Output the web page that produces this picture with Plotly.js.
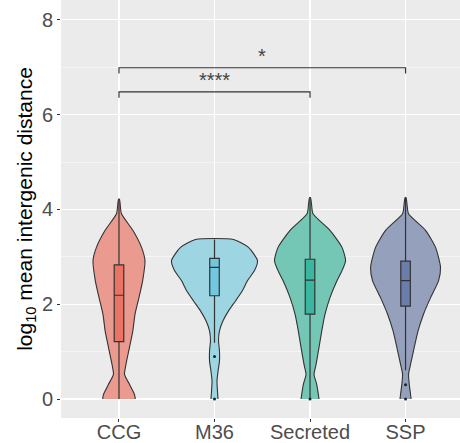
<!DOCTYPE html>
<html>
<head>
<meta charset="utf-8">
<script src="https://cdn.plot.ly/plotly-3.0.1.min.js"></script>
<style>html,body{margin:0;padding:0;background:#fff;}#chart{width:460px;height:443px;}</style>
</head>
<body>
<div id="chart"></div>
<script>
// ---- data ----
const categories = ["CCG", "M36", "Secreted", "SSP"];
const violinFill = ["#EA9A8F", "#9DD5E3", "#74C6B5", "#95A0BC"];
const boxFill = ["#EA7363", "#72C8DD", "#3BB7A1", "#6B7DAA"];

// violin outlines: y levels and half-widths (category units)
const ccgLevels = [0, 0.1, 0.31, 0.52, 0.73, 1.09, 1.44, 1.79, 2.14, 2.5, 2.92, 3.2, 3.56, 3.91, 4.1, 4.22];
const ccgHalf   = [0.171, 0.162, 0.110, 0.058, 0.073, 0.110, 0.145, 0.168, 0.209, 0.248, 0.272, 0.236, 0.145, 0.026, 0.013, 0.005];
const m36Levels = [0, 0.17, 0.38, 0.59, 0.8, 1.02, 1.23, 1.44, 1.65, 1.86, 2.07, 2.29, 2.5, 2.71, 2.92, 3.2, 3.365];
const m36Half   = [0.037, 0.031, 0.026, 0.037, 0.052, 0.052, 0.042, 0.052, 0.089, 0.147, 0.22, 0.293, 0.346, 0.419, 0.45, 0.356, 0.199];
const secLevels = [0, 0.1, 0.31, 0.52, 0.73, 1.09, 1.44, 1.79, 2.14, 2.5, 2.71, 2.92, 3.2, 3.56, 3.91, 4.1, 4.25];
const secHalf   = [0.094, 0.087, 0.070, 0.042, 0.063, 0.094, 0.123, 0.157, 0.209, 0.283, 0.335, 0.372, 0.335, 0.209, 0.031, 0.016, 0.005];
const sspLevels = [0, 0.1, 0.31, 0.52, 0.73, 1.09, 1.44, 1.79, 2.14, 2.5, 2.78, 3.2, 3.56, 3.91, 4.1, 4.25];
const sspHalf   = [0.058, 0.052, 0.039, 0.031, 0.052, 0.091, 0.131, 0.188, 0.262, 0.346, 0.366, 0.314, 0.209, 0.031, 0.016, 0.005];

// box statistics
const q1     = [1.21, 2.18, 1.79, 1.96];
const median = [2.19, 2.78, 2.51, 2.50];
const q3     = [2.83, 2.97, 2.95, 2.91];
const lowerW = [0.0, 1.19, 0.0, 0.61];
const upperW = [4.22, 3.365, 4.25, 4.25];
const outlierGroup = [1, 1, 2, 3, 3];
const outlierValue = [0.9, 0.0, 0.0, 0.30, 0.0];

// significance brackets
const bracketFrom = [0, 0];
const bracketTo = [2, 3];
const bracketY = [6.48, 6.99];
const bracketLabel = ["****", "*"];

const levels = [ccgLevels, m36Levels, secLevels, sspLevels];
const halves = [ccgHalf, m36Half, secHalf, sspHalf];

const X_RANGE = [-0.607, 3.57];
const Y_RANGE = [-0.4, 8.42];

const traces = [];
categories.forEach((c, i) => {
  const L = levels[i], H = halves[i];
  const xs = [], ys = [];
  for (let k = 0; k < L.length; k++) { xs.push(i + H[k]); ys.push(L[k]); }
  for (let k = L.length - 1; k >= 0; k--) { xs.push(i - H[k]); ys.push(L[k]); }
  traces.push({
    type: "scatter", mode: "lines", x: xs, y: ys, fill: "toself",
    fillcolor: violinFill[i], line: {color: "#333333", width: 1.1, shape: "spline", smoothing: 0.6},
    hoverinfo: "skip", showlegend: false
  });
});
// boxes on an overlaying axis pair so they are drawn above the violins
categories.forEach((c, i) => {
  traces.push({
    type: "box", x: [i], q1: [q1[i]], median: [median[i]], q3: [q3[i]],
    lowerfence: [lowerW[i]], upperfence: [upperW[i]], width: 0.1,
    fillcolor: boxFill[i], line: {color: "#333333", width: 1.2}, whiskerwidth: 0,
    boxpoints: false, showlegend: false, hoverinfo: "skip",
    xaxis: "x2", yaxis: "y2"
  });
});
traces.push({
  type: "scatter", mode: "markers", x: outlierGroup, y: outlierValue,
  marker: {color: "#222222", size: 3}, showlegend: false, hoverinfo: "skip",
  xaxis: "x2", yaxis: "y2"
});
const drop = 0.12;
bracketFrom.forEach((f, k) => {
  traces.push({
    type: "scatter", mode: "lines",
    x: [f, f, bracketTo[k], bracketTo[k]],
    y: [bracketY[k] - drop, bracketY[k], bracketY[k], bracketY[k] - drop],
    line: {color: "#333333", width: 1.2}, showlegend: false, hoverinfo: "skip"
  });
});

const annotations = bracketFrom.map((f, k) => ({
  x: (f + bracketTo[k]) / 2, y: bracketY[k], xref: "x", yref: "y",
  text: bracketLabel[k], showarrow: false, yanchor: "bottom", yshift: -1,
  font: {family: "Liberation Sans, Arial, sans-serif", size: 20, color: "#444444"}
}));

const layout = {
  width: 460, height: 443,
  margin: {l: 61, r: 0, t: 0, b: 25, pad: 0},
  paper_bgcolor: "#ffffff", plot_bgcolor: "#EBEBEB",
  font: {family: "Liberation Sans, Arial, sans-serif"},
  showlegend: false, boxmode: "overlay",
  xaxis: {
    range: X_RANGE, tickvals: [0, 1, 2, 3], ticktext: categories,
    showgrid: true, gridcolor: "#ffffff", gridwidth: 1.1, zeroline: false,
    ticks: "outside", ticklen: 3, tickcolor: "#333333", tickwidth: 1,
    ticklabelstandoff: -7,
    tickfont: {size: 20, color: "#4D4D4D"}, showline: false, fixedrange: true
  },
  yaxis: {
    range: Y_RANGE, tickvals: [0, 2, 4, 6, 8],
    showgrid: true, gridcolor: "#ffffff", gridwidth: 1.1, zeroline: false,
    minor: {tickvals: [1, 3, 5, 7], showgrid: true, gridcolor: "#ffffff", gridwidth: 0.5, ticks: ""},
    ticks: "outside", ticklen: 3, tickcolor: "#333333", tickwidth: 1,
    tickfont: {size: 20, color: "#4D4D4D"}, showline: false,
    title: {text: "log<sub>10</sub> mean intergenic distance", font: {size: 21, color: "#000000"}, standoff: 3}
  },
  xaxis2: {range: X_RANGE, overlaying: "x", visible: false, showgrid: false, zeroline: false},
  yaxis2: {range: Y_RANGE, overlaying: "y", visible: false, showgrid: false, zeroline: false},
  annotations: annotations
};

Plotly.newPlot("chart", traces, layout, {displayModeBar: false, staticPlot: true});
</script>
</body>
</html>
